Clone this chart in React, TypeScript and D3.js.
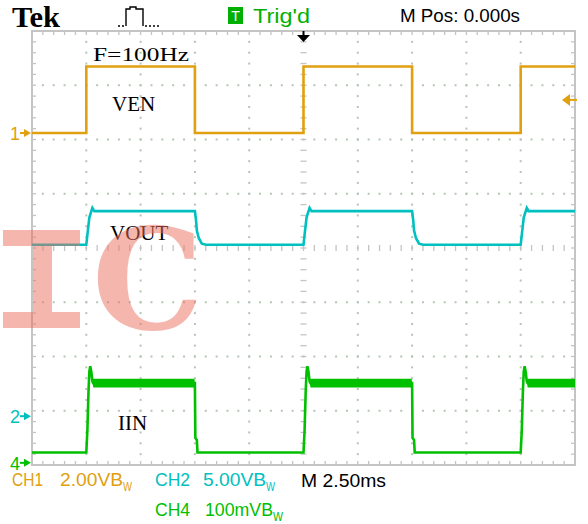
import React from 'react';
import * as d3 from 'd3';

const W = 588;
const H = 524;
const plot = { left: 32, right: 575, top: 31, bottom: 465 };

// horizontal: 2.5 ms/div, 10 divisions, trigger at centre (M Pos 0.000s)
const timeDomain: [number, number] = [-12.5, 12.5];
const divDomain: [number, number] = [-4, 4];

// channel settings (units per division, ground marker in divisions)
const ch1VoltsPerDiv = 2.0;
const ch2VoltsPerDiv = 5.0;
const ch4MilliVoltsPerDiv = 100;
const ch1Ground = 2.12;
const ch2Ground = -3.1;
const ch4Ground = -3.96;
const triggerLevel = 1.22; // V on CH1

// CH1 — VEN (V)
const venTime = [-12.5, -10, -10, -5, -5, 0, 0, 5, 5, 10, 10, 12.5];
const venVolts = [0, 0, 2.45, 2.45, 0, 0, 2.45, 2.45, 0, 0, 2.45, 2.45];

// CH2 — VOUT (V)
const voutTime = [
  -12.5, -10, -9.95, -9.86, -9.72, -9.63,
  -5, -4.95, -4.91, -4.82, -4.68, -4.49,
  0, 0.05, 0.14, 0.28, 0.37,
  5, 5.05, 5.09, 5.18, 5.32, 5.51,
  10, 10.05, 10.14, 10.28, 10.37, 12.5,
];
const voutVolts = [
  15.8, 15.8, 16.7, 18.3, 19.2, 18.9,
  18.9, 18.1, 17.1, 16.4, 15.9, 15.8,
  15.8, 16.7, 18.3, 19.2, 18.9,
  18.9, 18.1, 17.1, 16.4, 15.9, 15.8,
  15.8, 16.7, 18.3, 19.2, 18.9, 18.9,
];

// CH4 — IIN (mV across sense), centre value and ripple half-width
const iinTime = [
  -12.5, -10, -9.95, -9.9, -9.86, -9.82, -9.77, -9.72, -9.68,
  -5.02, -5, -4.98, -4.91, -4.88,
  0, 0.05, 0.1, 0.14, 0.18, 0.23, 0.28, 0.32,
  4.98, 5, 5.02, 5.09, 5.12,
  10, 10.05, 10.1, 10.14, 10.18, 10.23, 10.28, 10.32, 12.5,
];
const iinMilliVolts = [
  19, 19, 60, 130, 168, 178, 168, 150, 147,
  147, 147, 46, 42, 19,
  19, 60, 130, 168, 178, 168, 150, 147,
  147, 147, 46, 42, 19,
  19, 60, 130, 168, 178, 168, 150, 147, 147,
];
const iinRipple = [
  0, 0, 0, 0, 0, 0, 0, 0, 8,
  8, 0, 0, 0, 0,
  0, 0, 0, 0, 0, 0, 0, 8,
  8, 0, 0, 0, 0,
  0, 0, 0, 0, 0, 0, 0, 8, 8,
];

const orange = '#e0a010';
const cyan = '#00c0c0';
const green = '#00c000';
const gridGray = '#c4c4c4';
const dotColor = '#b4c6b4';
const sans = '"Liberation Sans", Arial, sans-serif';
const serif = '"Liberation Serif", "Times New Roman", serif';

type Pt = { t: number; v: number; r?: number };

export default function App() {
  const x = d3.scaleLinear().domain(timeDomain).range([plot.left, plot.right]);
  const y = d3.scaleLinear().domain(divDomain).range([plot.bottom, plot.top]);

  const yCh1 = (v: number) => y(ch1Ground + v / ch1VoltsPerDiv);
  const yCh2 = (v: number) => y(ch2Ground + v / ch2VoltsPerDiv);
  const yCh4 = (v: number) => y(ch4Ground + v / ch4MilliVoltsPerDiv);

  const ven: Pt[] = venTime.map((t, i) => ({ t, v: venVolts[i] }));
  const vout: Pt[] = voutTime.map((t, i) => ({ t, v: voutVolts[i] }));
  const iin: Pt[] = iinTime.map((t, i) => ({ t, v: iinMilliVolts[i], r: iinRipple[i] }));

  const venLine = d3.line<Pt>().x(d => x(d.t)).y(d => yCh1(d.v))(ven) || '';
  const voutLine = d3.line<Pt>().x(d => x(d.t)).y(d => yCh2(d.v))(vout) || '';
  const iinLine = d3.line<Pt>().x(d => x(d.t)).y(d => yCh4(d.v))(iin) || '';
  const iinBand = d3.area<Pt>()
    .x(d => x(d.t))
    .y0(d => yCh4(d.v - (d.r || 0)))
    .y1(d => yCh4(d.v + (d.r || 0)))(iin) || '';

  // grid positions
  const minorT = d3.range(1, 50).map(i => timeDomain[0] + i * 0.5);
  const minorD = d3.range(1, 40).map(i => divDomain[0] + i * 0.2);
  const majorT = [-10, -7.5, -5, -2.5, 2.5, 5, 7.5, 10];
  const majorD = [-3, -2, -1, 1, 2, 3];

  const dots: { cx: number; cy: number }[] = [];
  majorD.forEach(d => minorT.forEach(t => dots.push({ cx: x(t), cy: y(d) })));
  majorT.forEach(t => minorD.forEach(d => dots.push({ cx: x(t), cy: y(d) })));

  const y0 = y(0);
  const x0 = x(0);

  const mark = (label: string, color: string, yy: number, size = 18) => (
    <g>
      <text x={10} y={yy + 7} fill={color} fontFamily={sans} fontSize={size}>{label}</text>
      <rect x={20} y={yy - 1} width={5} height={2} fill={color} />
      <polygon points={`${24},${yy - 4} ${31},${yy} ${24},${yy + 4}`} fill={color} />
    </g>
  );

  const ty = yCh1(triggerLevel);

  return (
    <svg width={W} height={H} style={{ position: 'absolute', left: 0, top: 0, background: '#fff' }}>
      <rect width={W} height={H} fill="#fff" />

      {/* header */}
      <text x={12} y={27} fontFamily={serif} fontWeight="bold" fontSize={29} textLength={48} lengthAdjust="spacingAndGlyphs">Tek</text>
      <path d="M118,26h2m2,0h2M126,26V9h4V7h6v2h7V26m2,0h2m2,0h2m2,0h2m2,0h2" fill="none" stroke="#000" strokeWidth={1.4} />
      <rect x={228} y={7} width={15} height={17} fill="#00b000" />
      <text x={235.5} y={21} textAnchor="middle" fill="#fff" fontFamily={sans} fontSize={14}>T</text>
      <text x={253} y={23} fill="#00b000" fontFamily={sans} fontSize={20} textLength={57} lengthAdjust="spacingAndGlyphs">Trig'd</text>
      <text x={400} y={22} fill="#000" fontFamily={sans} fontSize={19} textLength={120} lengthAdjust="spacingAndGlyphs">M Pos: 0.000s</text>

      {/* graticule */}
      {dots.map((d, i) => (
        <rect key={'d' + i} x={d.cx - 1} y={d.cy - 1} width={2} height={2} fill={dotColor} />
      ))}
      {minorT.map((t, i) => (
        <g key={'tx' + i} stroke={gridGray} strokeWidth={1.3}>
          <line x1={x(t)} x2={x(t)} y1={plot.top} y2={plot.top + 4} />
          <line x1={x(t)} x2={x(t)} y1={plot.bottom - 4} y2={plot.bottom} />
          <line x1={x(t)} x2={x(t)} y1={y0 - 3} y2={y0 + 3} />
        </g>
      ))}
      {minorD.map((d, i) => (
        <g key={'ty' + i} stroke={gridGray} strokeWidth={1.3}>
          <line x1={plot.left} x2={plot.left + 4} y1={y(d)} y2={y(d)} />
          <line x1={plot.right - 4} x2={plot.right} y1={y(d)} y2={y(d)} />
          <line x1={x0 - 3} x2={x0 + 3} y1={y(d)} y2={y(d)} />
        </g>
      ))}
      <rect x={plot.left} y={plot.top} width={plot.right - plot.left} height={plot.bottom - plot.top}
        fill="none" stroke={gridGray} strokeWidth={2} />

      {/* labels in the screen */}
      <text x={93} y={61} fontFamily={serif} fontSize={19} textLength={96} lengthAdjust="spacingAndGlyphs">F=100Hz</text>
      <text x={112} y={111} fontFamily={serif} fontSize={21}>VEN</text>
      <text x={110} y={240} fontFamily={serif} fontSize={21}>VOUT</text>
      <text x={118} y={430} fontFamily={serif} fontSize={21}>IIN</text>

      {/* traces */}
      <path d={iinBand} fill={green} />
      <path d={iinLine} fill="none" stroke={green} strokeWidth={2.6} />
      <path d={voutLine} fill="none" stroke={cyan} strokeWidth={2.6} />
      <path d={venLine} fill="none" stroke={orange} strokeWidth={2.6} />

      {/* trigger position and level */}
      <rect x={x0 - 1} y={plot.top} width={2} height={5} fill="#000" />
      <polygon points={`${x0 - 6.5},${35} ${x0 + 6.5},${35} ${x0},${42}`} fill="#000" />
      <polygon points={`${562},${ty} ${570},${ty - 6} ${570},${ty + 6}`} fill={orange} />
      <rect x={569} y={ty - 1} width={8} height={2} fill={orange} />

      {/* channel ground markers */}
      {mark('1', orange, yCh1(0))}
      {mark('2', cyan, yCh2(0))}
      {mark('4', green, yCh4(0))}

      {/* footer */}
      <g fontFamily={sans}>
        <text x={12} y={486} fill={orange} fontSize={19} textLength={31} lengthAdjust="spacingAndGlyphs">CH1</text>
        <text x={60} y={486} fill={orange} fontSize={19} textLength={63} lengthAdjust="spacingAndGlyphs">2.00VB</text>
        <text x={123} y={491} fill={orange} fontSize={13} textLength={9} lengthAdjust="spacingAndGlyphs">W</text>

        <text x={155} y={486} fill={cyan} fontSize={19} textLength={35} lengthAdjust="spacingAndGlyphs">CH2</text>
        <text x={203} y={486} fill={cyan} fontSize={19} textLength={63} lengthAdjust="spacingAndGlyphs">5.00VB</text>
        <text x={266} y={491} fill={cyan} fontSize={13} textLength={9} lengthAdjust="spacingAndGlyphs">W</text>

        <text x={301} y={487} fill="#000" fontSize={19} textLength={85} lengthAdjust="spacingAndGlyphs">M 2.50ms</text>

        <text x={155} y={516} fill={green} fontSize={19} textLength={35} lengthAdjust="spacingAndGlyphs">CH4</text>
        <text x={205} y={516} fill={green} fontSize={19} textLength={68} lengthAdjust="spacingAndGlyphs">100mVB</text>
        <text x={273} y={521} fill={green} fontSize={13} textLength={10} lengthAdjust="spacingAndGlyphs">W</text>
      </g>

      {/* watermark */}
      <g fill="rgb(236,112,96)" opacity={0.5}>
        <rect x={3} y={230} width={77} height={16} />
        <rect x={33} y={246} width={19} height={66} />
        <rect x={3} y={312} width={77} height={16} />
        <text x={92} y={329} fontFamily='"DejaVu Serif", serif' fontWeight="bold" fontSize={140}>C</text>
      </g>
    </svg>
  );
}
